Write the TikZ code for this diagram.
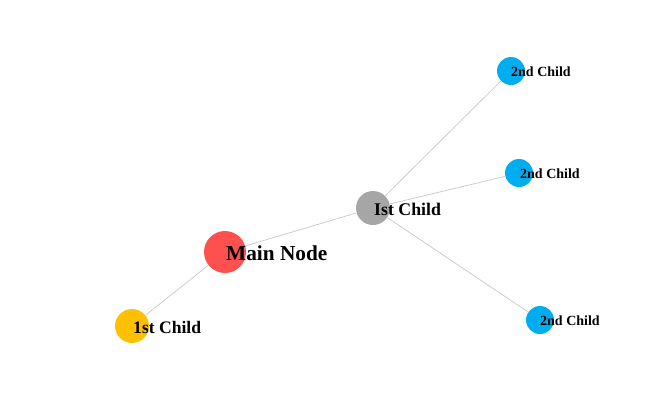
\documentclass[tikz,border=0pt]{standalone}
\usepackage{fontspec}
\setmainfont{Liberation Serif}
\usepackage{xcolor}

\definecolor{mainred}{HTML}{FF5050}
\definecolor{childgray}{HTML}{A6A6A6}
\definecolor{childyellow}{HTML}{FFC000}
\definecolor{childblue}{HTML}{00AEEF}
\definecolor{linkgray}{HTML}{CCCCCC}

\begin{document}
\begin{tikzpicture}[x=1pt, y=-1pt,
    dot/.style={circle, inner sep=0pt, draw=none},
    lbl/.style={anchor=west, inner sep=0pt, font=\bfseries},
    link/.style={draw=linkgray, line width=0.8pt}]
    \useasboundingbox (0,0) rectangle (658,415);

    % Main node
    \node[dot, fill=mainred, minimum size=42pt] (main) at (225,252) {};
    \node[lbl, font=\bfseries\fontsize{21.3}{24}\selectfont] (mainlbl) at (226,253) {Main Node};

    % First level
    \node[dot, fill=childgray, minimum size=34pt] (ist) at (373,208) {};
    \node[lbl, font=\bfseries\fontsize{17.8}{20}\selectfont] (istlbl) at (374,209) {Ist Child};
    \node[dot, fill=childyellow, minimum size=34pt] (first) at (132,326) {};
    \node[lbl, font=\bfseries\fontsize{17.6}{20}\selectfont] (firstlbl) at (133,327) {1st Child};

    % Second level
    \node[dot, fill=childblue, minimum size=28pt] (secA) at (511,71) {};
    \node[lbl, font=\bfseries\fontsize{14}{16}\selectfont] (secAlbl) at (511,72) {2nd Child};
    \node[dot, fill=childblue, minimum size=28pt] (secB) at (519,173) {};
    \node[lbl, font=\bfseries\fontsize{14}{16}\selectfont] (secBlbl) at (520,174) {2nd Child};
    \node[dot, fill=childblue, minimum size=28pt] (secC) at (540,320) {};
    \node[lbl, font=\bfseries\fontsize{14}{16}\selectfont] (secClbl) at (540,321) {2nd Child};

    % Links
    \draw[link] (main) -- (first);
    \draw[link] (main) -- (ist);
    \draw[link] (ist) -- (secA);
    \draw[link] (ist) -- (secB);
    \draw[link] (ist) -- (secC);
\end{tikzpicture}
\end{document}
